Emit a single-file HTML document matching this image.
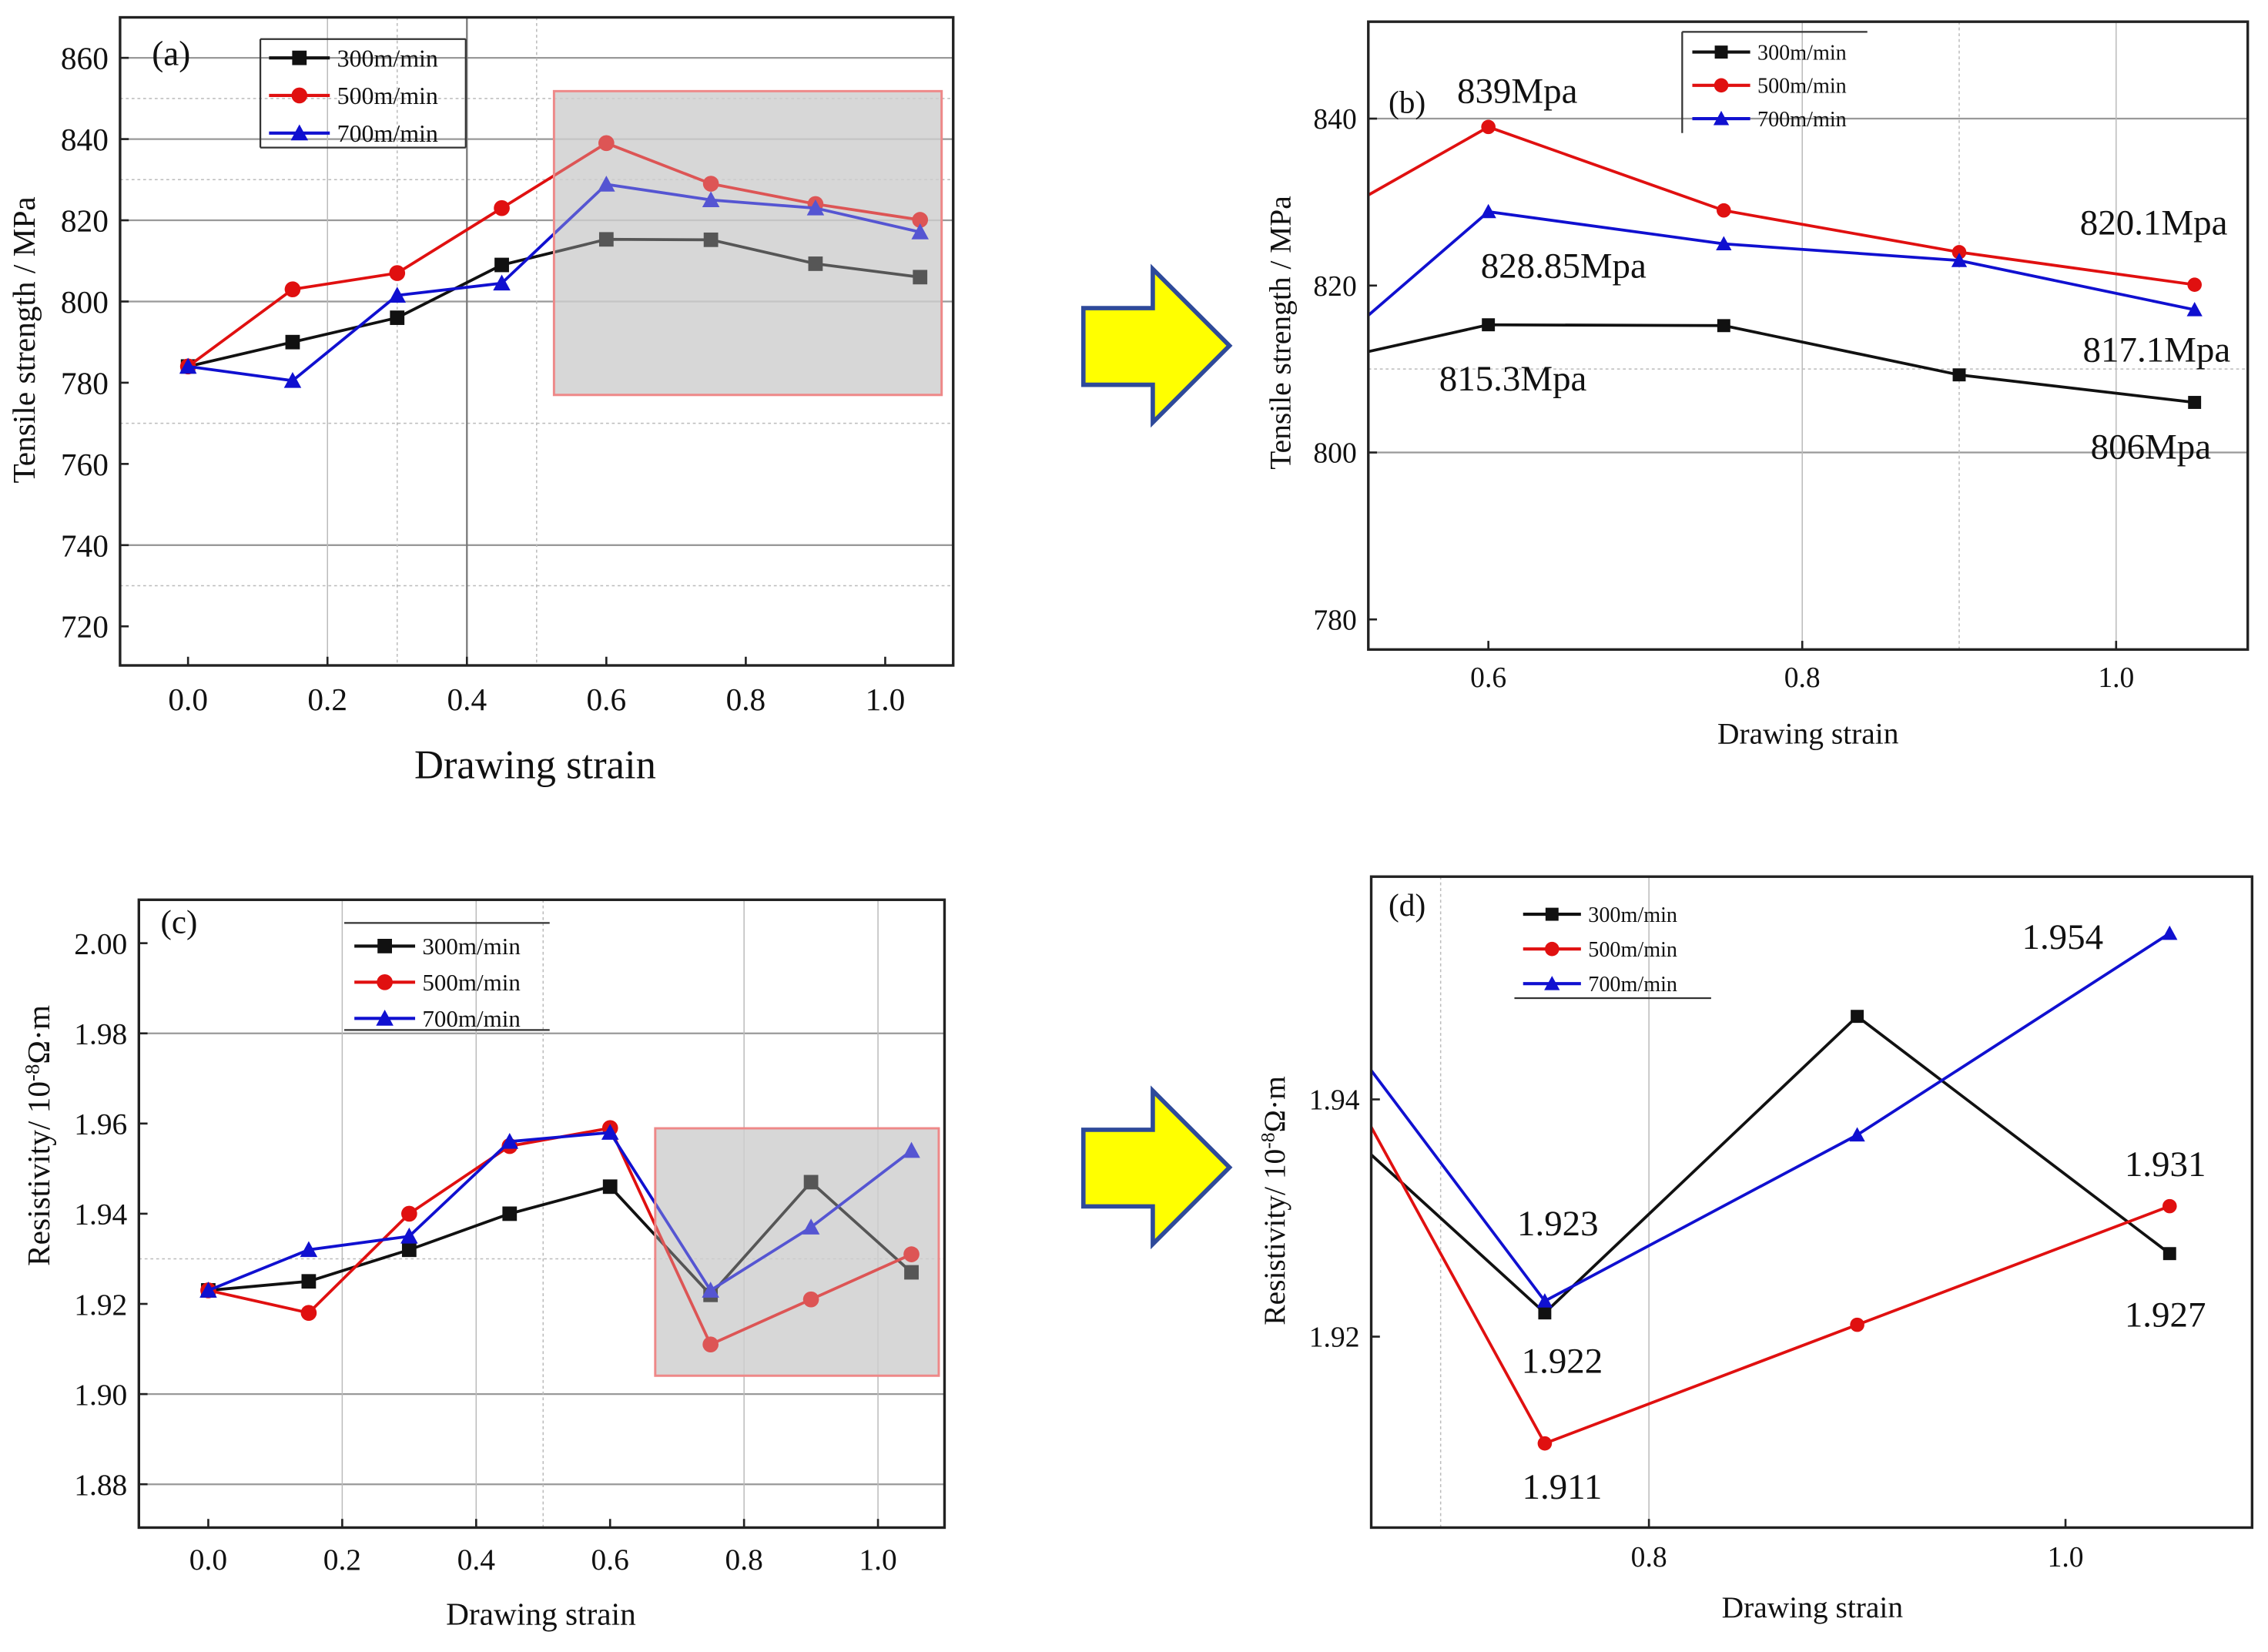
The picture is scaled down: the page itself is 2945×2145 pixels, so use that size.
<!DOCTYPE html>
<html><head><meta charset="utf-8"><style>
html,body{margin:0;padding:0;background:#fff;}
svg{display:block;font-family:"Liberation Serif",serif;}
</style></head><body>
<svg id="fig" width="2945" height="2145" viewBox="0 0 1568 1142" preserveAspectRatio="none" xmlns="http://www.w3.org/2000/svg">
<defs>
<clipPath id="clipB"><rect x="946" y="15" width="608" height="434"/></clipPath>
<clipPath id="clipD"><rect x="948" y="606" width="609" height="450"/></clipPath>
</defs>
<g><polygon points="749,213 797,213 797,186 850,239 797,292 797,266 749,266" fill="#ffff00" stroke="#2e4a9a" stroke-width="3"/></g>
<g><polygon points="749,781 797,781 797,754 850,807 797,860 797,834 749,834" fill="#ffff00" stroke="#2e4a9a" stroke-width="3"/></g>
</svg>
<script>
// ---- data ----
const strainA = [0, 0.15, 0.3, 0.45, 0.6, 0.75, 0.9, 1.05];
const tens300 = [784, 790, 796, 809, 815.3, 815.2, 809.3, 806];
const tens500 = [784, 803, 807, 823, 839, 829, 824, 820.1];
const tens700 = [784, 780.5, 801.5, 804.5, 828.85, 825, 823, 817.1];
const res300 = [1.923, 1.925, 1.932, 1.940, 1.946, 1.922, 1.947, 1.927];
const res500 = [1.923, 1.918, 1.940, 1.955, 1.959, 1.911, 1.921, 1.931];
const res700 = [1.923, 1.932, 1.935, 1.956, 1.958, 1.923, 1.937, 1.954];
const seriesNames = ["300m/min", "500m/min", "700m/min"];
const xTicksA = [0.0, 0.2, 0.4, 0.6, 0.8, 1.0];
const yTicksA = [720, 740, 760, 780, 800, 820, 840, 860];
const xTicksB = [0.6, 0.8, 1.0];
const yTicksB = [780, 800, 820, 840];
const yTicksC = [1.88, 1.90, 1.92, 1.94, 1.96, 1.98, 2.00];
const xTicksD = [0.8, 1.0];
const yTicksD = [1.92, 1.94];
const annB = ["839Mpa", "828.85Mpa", "815.3Mpa", "820.1Mpa", "817.1Mpa", "806Mpa"];
const annD = ["1.954", "1.923", "1.922", "1.911", "1.931", "1.927"];

const svg = document.getElementById('fig');
const NS = 'http://www.w3.org/2000/svg';
function mk(tag, attrs, parent) {
  const e = document.createElementNS(NS, tag);
  for (const k in attrs) e.setAttribute(k, attrs[k]);
  (parent || svg).appendChild(e);
  return e;
}
function txt(s, x, y, size, anchor, parent, name) {
  const t = mk('text', {x: x, y: y, 'font-size': size, 'text-anchor': anchor || 'middle', fill: '#111'}, parent);
  t.textContent = s;
  
  
  return t;
}
const colors = ['#111', '#e01010', '#1010d0'];

function marker(g, kind, x, y, r, color) {
  let m;
  if (kind === 0) m = mk('rect', {x: x - r, y: y - r, width: 2 * r, height: 2 * r, fill: color}, g);
  else if (kind === 1) m = mk('circle', {cx: x, cy: y, r: r * 1.1, fill: color}, g);
  else m = mk('polygon', {points: `${x},${y - r * 1.2} ${x - r * 1.2},${y + r} ${x + r * 1.2},${y + r}`, fill: color}, g);
  
  
}

function panel(o) {
  const g = mk('g', {});
  
  
  const X = v => o.x0 + (v - o.xv0) * o.xs;
  const Y = v => o.y0 - (v - o.yv0) * o.ys;
  (o.hgrid || []).forEach(h => {
    const l = mk('line', {x1: o.L, x2: o.R, y1: Y(h[0]), y2: Y(h[0]), stroke: h[1] ? '#999' : '#bbb', 'stroke-width': h[1] ? 1.2 : 0.8, 'stroke-dasharray': h[1] ? '' : '2,2'}, g);
    
    
  });
  (o.vgrid || []).forEach(h => {
    const l = mk('line', {x1: X(h[0]), x2: X(h[0]), y1: o.T, y2: o.B, stroke: h[1] === 2 ? '#777' : '#bbb', 'stroke-width': h[1] === 2 ? 1.2 : 0.8, 'stroke-dasharray': h[1] === 0 ? '2,2' : ''}, g);
    
    
  });
  if (o.zoomRect) {
    const z = o.zoomRect;
    const r = mk('rect', {x: z[0], y: z[1], width: z[2] - z[0], height: z[3] - z[1], fill: 'rgba(200,200,200,0.7)', stroke: '#e88', 'stroke-width': 1.5}, g);
    
    
  }
  const sg = mk('g', o.clip ? {'clip-path': `url(#${o.clip})`} : {}, g);
  o.series.forEach((s, i) => {
    const pts = o.xs_data.map((xv, j) => `${X(xv)},${Y(s[j])}`).join(' ');
    const pl = mk('polyline', {points: pts, fill: 'none', stroke: colors[i], 'stroke-width': 2}, sg);
    
    
    o.xs_data.forEach((xv, j) => marker(sg, i, X(xv), Y(s[j]), o.mr, colors[i]));
  });
  if (o.zoomRect) {
    const z = o.zoomRect;
    const ov = mk('rect', {x: z[0], y: z[1], width: z[2] - z[0], height: z[3] - z[1], fill: 'rgba(215,215,215,0.35)', stroke: '#e88', 'stroke-width': 1.5}, g);
    
    
  }
  const fr = mk('rect', {x: o.L, y: o.T, width: o.R - o.L, height: o.B - o.T, fill: 'none', stroke: '#222', 'stroke-width': 1.8}, g);
  
  
  o.xt.forEach(v => {
    mk('line', {x1: X(v), x2: X(v), y1: o.B, y2: o.B - 6, stroke: '#222', 'stroke-width': 1.4}, g);
    txt(v.toFixed(1), X(v), o.B + o.xlOff, o.tf, 'middle', g, 'x-tick-label');
  });
  o.yt.forEach(v => {
    mk('line', {x1: o.L, x2: o.L + 6, y1: Y(v), y2: Y(v), stroke: '#222', 'stroke-width': 1.4}, g);
    txt(o.yfmt(v), o.L - 8, Y(v) + o.tf * 0.35, o.tf, 'end', g, 'y-tick-label');
  });
  txt('Drawing strain', o.xtitle[0], o.xtitle[1], o.xtf, 'middle', g, 'x-axis-title');
  const yt = txt(o.ytitle[2], 0, 0, o.ytf, 'middle', g, 'y-axis-title');
  yt.setAttribute('transform', `translate(${o.ytitle[0]},${o.ytitle[1]}) rotate(-90)`);
  if (o.ysup) { yt.textContent = '';
    const a = mk('tspan', {}, yt); a.textContent = 'Resistivity/ 10';
    const b = mk('tspan', {dy: -7, 'font-size': o.ytf * 0.65}, yt); b.textContent = '-8';
    const c = mk('tspan', {dy: 7}, yt); c.textContent = 'Ω·m'; }
  txt(o.tag[2], o.tag[0], o.tag[1], o.tagf, 'start', g, 'panel-label');
  const lg = mk('g', {}, g);
  
  
  const Lg = o.legend;
  if (Lg.left) mk('line', {x1: Lg.x, x2: Lg.x, y1: Lg.y, y2: Lg.y + Lg.h, stroke: '#333', 'stroke-width': 1.2}, lg);
  if (Lg.top) mk('line', {x1: Lg.x, x2: Lg.x + Lg.w, y1: Lg.y, y2: Lg.y, stroke: '#333', 'stroke-width': 1.2}, lg);
  if (Lg.bottom) mk('line', {x1: Lg.x, x2: Lg.x + Lg.w, y1: Lg.y + Lg.h, y2: Lg.y + Lg.h, stroke: '#333', 'stroke-width': 1.2}, lg);
  if (Lg.right) mk('line', {x1: Lg.x + Lg.w, x2: Lg.x + Lg.w, y1: Lg.y, y2: Lg.y + Lg.h, stroke: '#333', 'stroke-width': 1.2}, lg);
  seriesNames.forEach((n, i) => {
    const yy = Lg.y0 + i * Lg.dy;
    const e = mk('g', {}, lg);
    
    
    mk('line', {x1: Lg.lx, x2: Lg.lx + Lg.ll, y1: yy, y2: yy, stroke: colors[i], 'stroke-width': 2.2}, e);
    marker(e, i, Lg.lx + Lg.ll / 2, yy, o.mr, colors[i]);
    txt(n, Lg.lx + Lg.ll + 5, yy + Lg.f * 0.35, Lg.f, 'start', e, 'legend-text');
  });
  (o.ann || []).forEach(a => txt(a[0], a[1], a[2], o.annf, 'middle', g, 'value-annotation'));
}

panel({name: 'panel-a', L: 83, R: 659, T: 12, B: 460, x0: 130, xv0: 0, xs: 482, y0: 40, yv0: 860, ys: 2.807,
  xs_data: strainA, series: [tens300, tens500, tens700], mr: 5,
  hgrid: [[860, 1], [840, 1], [820, 1], [800, 1], [740, 1], [850, 0], [830, 0], [770, 0], [730, 0]],
  vgrid: [[0.2, 1], [0.3, 0], [0.4, 2], [0.5, 0]],
  zoomRect: [383, 63, 651, 273],
  xt: xTicksA, yt: yTicksA, yfmt: v => v.toFixed(0), tf: 22, xlOff: 31,
  xtitle: [370, 538], xtf: 28, ytitle: [24, 235, 'Tensile strength / MPa'], ytf: 22,
  tag: [105, 45, '(a)'], tagf: 24,
  legend: {x: 180, y: 27, w: 142, h: 75, left: true, right: true, top: true, bottom: true, y0: 40, dy: 26, lx: 186, ll: 42, f: 17}});
panel({name: 'panel-b', L: 946, R: 1554, T: 15, B: 449, x0: 1029, xv0: 0.6, xs: 1085, y0: 82, yv0: 840, ys: 5.77,
  xs_data: strainA, series: [tens300, tens500, tens700], mr: 4.5, clip: 'clipB',
  hgrid: [[840, 1], [800, 1], [810, 0]],
  vgrid: [[0.8, 1], [0.9, 0], [1.0, 1]],
  xt: xTicksB, yt: yTicksB, yfmt: v => v.toFixed(0), tf: 20, xlOff: 26,
  xtitle: [1250, 514], xtf: 21, ytitle: [892, 230, 'Tensile strength / MPa'], ytf: 21,
  tag: [960, 78, '(b)'], tagf: 22,
  legend: {x: 1163, y: 22, w: 128, h: 70, left: true, top: true, y0: 36, dy: 23, lx: 1170, ll: 40, f: 15}},
);
panel({name: 'panel-b-annotations', L: 0, R: 0, T: 0, B: 0, x0: 0, xv0: 0, xs: 1, y0: 0, yv0: 0, ys: 1,
  xs_data: [], series: [], mr: 0, xt: [], yt: [], yfmt: v => v, tf: 0, xlOff: 0, xtitle: [-100, -100], xtf: 0, ytitle: [-100, -100, ''], ytf: 0,
  tag: [-100, -100, ''], tagf: 0, legend: {y0: -100, dy: 0, lx: -300, ll: 0, f: 0},
  annf: 25, ann: [[annB[0], 1049, 71], [annB[1], 1081, 192], [annB[2], 1046, 270], [annB[3], 1489, 162], [annB[4], 1491, 250], [annB[5], 1487, 317]]});
panel({name: 'panel-c', L: 96, R: 653, T: 622, B: 1056, x0: 144, xv0: 0, xs: 463, y0: 652, yv0: 2.00, ys: 3117,
  xs_data: strainA, series: [res300, res500, res700], mr: 5,
  hgrid: [[1.98, 1], [1.90, 1], [1.88, 1], [1.93, 0]],
  vgrid: [[0.2, 1], [0.4, 1], [0.5, 0], [0.8, 1], [1.0, 1]],
  zoomRect: [453, 780, 649, 951],
  xt: xTicksA, yt: yTicksC, yfmt: v => v.toFixed(2), tf: 21, xlOff: 29,
  xtitle: [374, 1123], xtf: 22, ytitle: [34, 785, ''], ytf: 22, ysup: true,
  tag: [111, 645, '(c)'], tagf: 23,
  legend: {x: 238, y: 638, w: 142, h: 74, top: true, bottom: true, y0: 654, dy: 25, lx: 245, ll: 42, f: 16.5}});
panel({name: 'panel-d', L: 948, R: 1557, T: 606, B: 1056, x0: 1140, xv0: 0.8, xs: 1440, y0: 760, yv0: 1.94, ys: 8200,
  xs_data: strainA, series: [res300, res500, res700], mr: 4.5, clip: 'clipD',
  hgrid: [], vgrid: [[0.8, 1], [0.7, 0]],
  xt: xTicksD, yt: yTicksD, yfmt: v => v.toFixed(2), tf: 20, xlOff: 27,
  xtitle: [1253, 1118], xtf: 21, ytitle: [888, 830, ''], ytf: 21, ysup: true,
  tag: [960, 633, '(d)'], tagf: 22,
  legend: {x: 1047, y: 620, w: 136, h: 70, bottom: true, y0: 632, dy: 24, lx: 1053, ll: 40, f: 15},
  annf: 25, ann: [[annD[0], 1426, 656], [annD[1], 1077, 854], [annD[2], 1080, 949], [annD[3], 1080, 1036], [annD[4], 1497, 813], [annD[5], 1497, 917]]});
</script>
</body></html>
